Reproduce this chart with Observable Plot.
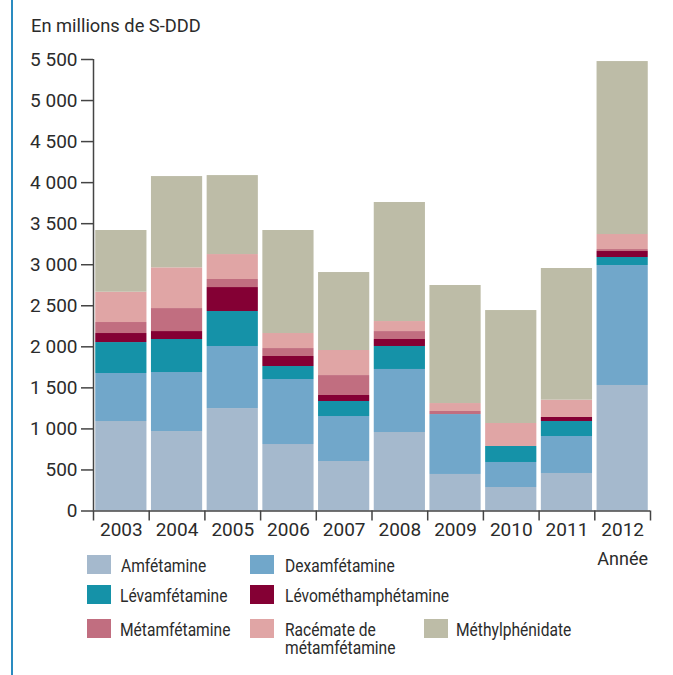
<!DOCTYPE html>
<html>
<head>
<meta charset="utf-8">
<script src="https://cdn.jsdelivr.net/npm/d3@7"></script>
<script src="https://cdn.jsdelivr.net/npm/@observablehq/plot@0.6"></script>
<style>
  html, body { margin: 0; padding: 0; background: #fff; }
  #wrap { position: relative; width: 673px; height: 675px; overflow: hidden;
    font-family: Roboto, "Liberation Sans", sans-serif; color: #2b2b2b; }
  #edge { position: absolute; left: 11px; top: 0; width: 2px; height: 675px; background: #2a8bc0; }
  #title { position: absolute; left: 31px; top: 15px; font-size: 18.3px; }
  #chart { position: absolute; left: 0; top: 0; }
  #annee { position: absolute; right: 25px; top: 548px; font-size: 18px; }
  .sw { position: absolute; width: 24px; height: 19px; }
  .item { position: absolute; font-size: 18px; line-height: 17px; height: 17px; white-space: nowrap;
    transform: scaleX(0.865); transform-origin: 0 50%; }
</style>
</head>
<body>
<div id="wrap">
  <div id="edge"></div>
  <div id="title">En millions de S-DDD</div>
  <div id="chart"></div>
  <div id="annee">Année</div>
  <div id="legend"></div>
</div>
<script>
const years = [2003, 2004, 2005, 2006, 2007, 2008, 2009, 2010, 2011, 2012];
const amfetamine          = [1090,  968, 1248,  810,  603,  956,  445,  286,  457, 1529];
const dexamfetamine       = [ 585,  719,  756,  792,  548,  768,  730,  305,  450, 1461];
const levamfetamine       = [ 377,  402,  426,  158,  183,  280,    0,  195,  183,   98];
const levomethamphetamine = [ 110,   97,  292,  122,   73,   85,    0,    0,   49,   73];
const metamfetamine       = [ 134,  280,   98,   97,  243,   97,   37,    0,    0,   24];
const racemate            = [ 369,  496,  304,  183,  305,  122,   97,  280,  211,  183];
const methylphenidate     = [ 752, 1112,  962, 1255,  950, 1450, 1438, 1376, 1604, 2107];

const seriesNames = ["Amfétamine", "Dexamfétamine", "Lévamfétamine", "Lévométhamphétamine",
  "Métamfétamine", "Racémate de métamfétamine", "Méthylphénidate"];
const seriesValues = [amfetamine, dexamfetamine, levamfetamine, levomethamphetamine,
  metamfetamine, racemate, methylphenidate];
const seriesColors = ["#a5b9cd", "#71a7ca", "#1592a8", "#840034", "#c16e80", "#e0a5a5", "#bdbca7"];
const yTicks = [0, 500, 1000, 1500, 2000, 2500, 3000, 3500, 4000, 4500, 5000, 5500];

const data = seriesNames.flatMap((name, s) =>
  years.map((year, i) => ({year, drug: name, value: seriesValues[s][i]})));
const bounds = years.map(y => y - 0.5).concat([years[years.length - 1] + 0.5]);

const chart = Plot.plot({
  width: 673,
  height: 548,
  marginTop: 59,
  marginBottom: 37.5,
  marginLeft: 93,
  marginRight: 23,
  style: {fontFamily: "Roboto, 'Liberation Sans', sans-serif", fontSize: "19px", color: "#2b2b2b", background: "transparent"},
  x: {domain: [bounds[0], bounds[bounds.length - 1]], axis: null},
  y: {domain: [0, 5500], axis: null},
  color: {domain: seriesNames, range: seriesColors},
  marks: [
    Plot.rectY(data, {
      x: "year", x1: d => d.year - 0.5, x2: d => d.year + 0.5,
      y: "value", fill: "drug", order: seriesNames,
      insetLeft: 2.25, insetRight: 2.25
    }),
    Plot.axisY({ticks: yTicks, tickFormat: d => d3.format(",")(d).replace(/,/g, " "),
      tickSize: 12, tickPadding: 4, label: null, strokeWidth: 1.5, stroke: "#444"}),
    Plot.axisX({ticks: bounds, tickFormat: () => "", tickSize: 10, label: null, strokeWidth: 1.5, stroke: "#444"}),
    Plot.axisX({ticks: years, tickFormat: d => String(d), tickSize: 0, tickPadding: 11, label: null}),
    Plot.ruleY([0], {stroke: "#444", strokeWidth: 1.5}),
    Plot.ruleX([bounds[0]], {stroke: "#444", strokeWidth: 1.5})
  ]
});
document.getElementById("chart").appendChild(chart);

// legend
const legendPos = [
  [87, 555, 121], [250, 555, 285],
  [87, 585, 120], [250, 585, 285],
  [87, 619, 120], [250, 619, 285], [424, 619, 456]
];
const legendLabels = [["Amfétamine"], ["Dexamfétamine"], ["Lévamfétamine"], ["Lévométhamphétamine"],
  ["Métamfétamine"], ["Racémate de", "métamfétamine"], ["Méthylphénidate"]];
const legend = document.getElementById("legend");
legendLabels.forEach((lines, i) => {
  const [sx, sy, tx] = legendPos[i];
  const sw = document.createElement("div");
  sw.className = "sw";
  sw.style.left = sx + "px";
  sw.style.top = sy + "px";
  sw.style.background = seriesColors[i];
  legend.appendChild(sw);
  lines.forEach((line, j) => {
    const t = document.createElement("div");
    t.className = "item";
    t.style.left = tx + "px";
    t.style.top = (sy + 2 + j * 18) + "px";
    t.textContent = line;
    legend.appendChild(t);
  });
});
</script>
</body>
</html>
